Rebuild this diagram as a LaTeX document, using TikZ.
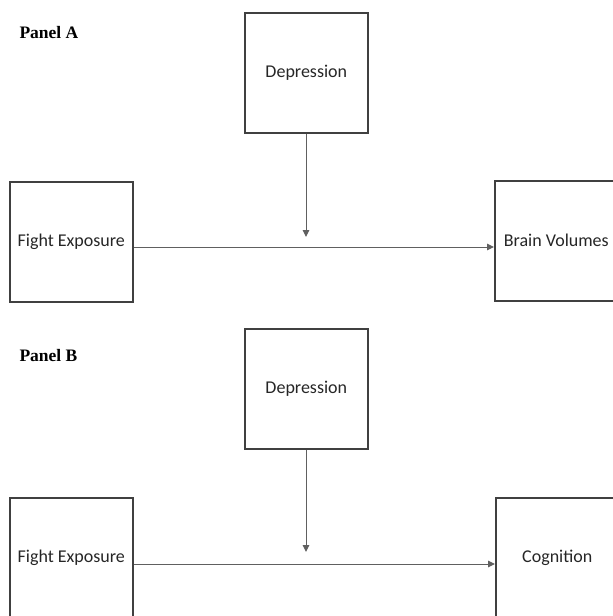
\documentclass[tikz,border=0pt]{standalone}
\usepackage{fontspec}
\setmainfont{Liberation Serif}
\newfontfamily\boxfont{Carlito}
\usetikzlibrary{arrows.meta}
\definecolor{boxline}{HTML}{404040}
\definecolor{conn}{HTML}{606060}
\definecolor{txt}{HTML}{262626}
\begin{document}
\begin{tikzpicture}[x=1pt,y=-1pt,
  varbox/.style={draw=boxline, line width=1.6pt, minimum width=123pt, minimum height=120pt,
    inner sep=0pt, font=\boxfont\fontsize{18}{20}\selectfont, text=txt, anchor=north west},
  panel/.style={font=\bfseries\fontsize{17.5}{20}\selectfont, anchor=west, text=black},
  conn/.style={draw=conn, line width=1pt},
  arr/.style={conn, -{Triangle[length=7pt,width=6.5pt]}}]
\path[use as bounding box, clip] (0,0) rectangle (613,616);
% Panel A
\node[panel] (pa) at (16,33) {Panel A};
\node[varbox] (depA) at (244,12) {Depression};
\node[varbox] (feA) at (9,181) {Fight Exposure};
\node[varbox] (bvA) at (494,180) {Brain Volumes};
\coordinate (tipA) at (306,237);
\draw[arr] (depA.south -| tipA) -- (tipA);
\draw[arr] (feA.east |- 0,247) -- (bvA.west |- 0,247);
% Panel B
\node[panel] (pb) at (16,356) {Panel B};
\node[varbox] (depB) at (244,328) {Depression};
\node[varbox] (feB) at (9,497) {Fight Exposure};
\node[varbox] (cgB) at (495,497) {Cognition};
\coordinate (tipB) at (306,552);
\draw[arr] (depB.south -| tipB) -- (tipB);
\draw[arr] (feB.east |- 0,564) -- (cgB.west |- 0,564);
\end{tikzpicture}
\end{document}
